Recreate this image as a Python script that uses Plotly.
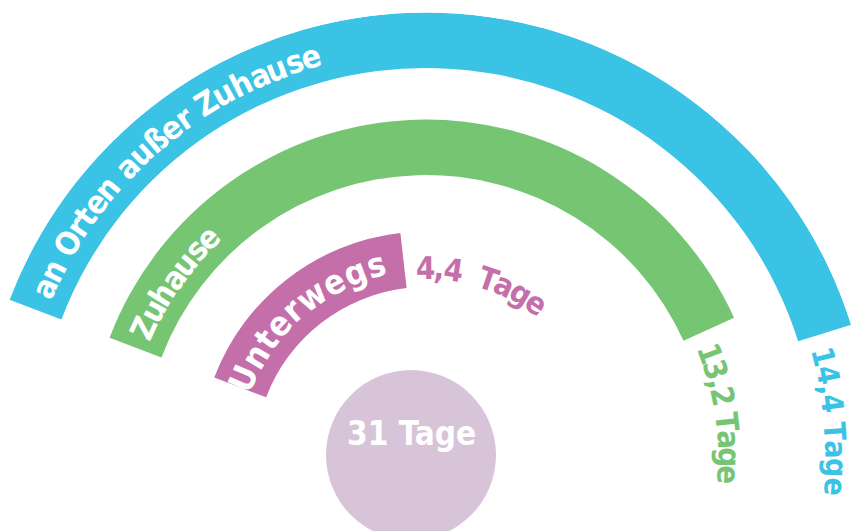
import math
import plotly.graph_objects as go

# ---------------- data ----------------
categories = ["an Orten außer Zuhause", "Zuhause", "Unterwegs"]
days = [14.4, 13.2, 4.4]
value_labels = ["14,4 Tage", "13,2 Tage", "4,4  Tage"]
arc_extent_deg = [141.8, 134.7, 62.7]   # angular length of each arc as drawn
total_days = 31
total_label = "31 Tage"

# ---------------- styling / geometry ----------------
colors = ["#3AC3E5", "#75C573", "#C46FAA"]
circle_color = "#D8C4D8"
FONT = "DejaVu Sans Condensed, Liberation Sans Narrow, sans-serif"

W, H = 858, 531
CX, CY = 426, 458          # arc centre in px
R_MAX = 445.5
START_DEG = 159.2
ring_base = [390, 283, 171]
RING_W = 55.5
SECTOR = [17, 160]

# approx. advance widths (em) of DejaVu Sans Condensed Bold, for curved text
CW = {' ': 0.348, 'a': 0.675, 'n': 0.712, 'O': 0.850, 'r': 0.493, 't': 0.478,
      'e': 0.678, 'u': 0.712, 'ß': 0.716, 'Z': 0.725, 'h': 0.712, 's': 0.595,
      'U': 0.815, 'w': 0.923, 'g': 0.716, 'T': 0.683, '1': 0.696, '3': 0.696,
      '4': 0.696, '2': 0.696, ',': 0.381}

fig = go.Figure()
for cat, ext, base, col in zip(categories, arc_extent_deg, ring_base, colors):
    fig.add_trace(go.Barpolar(
        r=[RING_W], base=[base], theta=[START_DEG - ext / 2], width=[ext],
        marker=dict(color=col, line=dict(width=0)), name=cat,
        hoverinfo="skip"))

# polar domain so that centre/radius land at CX, CY, R_MAX
def sector_bbox(s0, s1):
    c0, c1 = math.cos(math.radians(s0)), math.cos(math.radians(s1))
    return min(c0, c1), 0.0, max(c0, c1), 1.0

bx0, by0, bx1, by1 = sector_bbox(*SECTOR)
left = CX + R_MAX * bx0
right = CX + R_MAX * bx1
top = CY - R_MAX * by1
bottom = CY - R_MAX * by0

annotations = []


def arc_text(text, r, a0, a1, color, size):
    ws = [CW.get(ch, 0.68) for ch in text]
    centers = []
    acc = 0
    for w in ws:
        centers.append(acc + w / 2)
        acc += w
    s0, s1 = centers[0], centers[-1]
    for ch, c in zip(text, centers):
        if ch == ' ':
            continue
        th = a0 + (c - s0) / (s1 - s0) * (a1 - a0)
        px = CX + r * math.cos(math.radians(th))
        py = CY - r * math.sin(math.radians(th))
        annotations.append(dict(
            x=px / W, y=1 - py / H, xref="paper", yref="paper",
            text=ch, showarrow=False, xanchor="center", yanchor="middle",
            textangle=90 - th,
            font=dict(family=FONT, size=size, color=color, weight="bold")))


# category labels inside arcs
arc_text(categories[0], 417, 156.0, 106.0, "white", 32)
arc_text(categories[1], 310, 155.3, 134.7, "white", 32)
arc_text(categories[2], 199, 156.4, 104.6, "white", 34)
# value labels
arc_text(value_labels[0], 410, 14.3, -4.0, colors[0], 30)
arc_text(value_labels[1], 303, 20.3, -3.2, colors[1], 31)
arc_text(value_labels[2], 190, 90.3, 54.5, colors[2], 31)

# centre circle
CIRC_X, CIRC_Y, CIRC_R = 411, 455, 85
shapes = [dict(type="circle", xref="paper", yref="paper",
               x0=(CIRC_X - CIRC_R) / W, x1=(CIRC_X + CIRC_R) / W,
               y0=1 - (CIRC_Y + CIRC_R) / H, y1=1 - (CIRC_Y - CIRC_R) / H,
               fillcolor=circle_color, line=dict(width=0), layer="below")]
annotations.append(dict(x=CIRC_X / W, y=1 - CIRC_Y / H, xref="paper", yref="paper",
                        text=total_label, showarrow=False,
                        font=dict(family=FONT, size=33, color="white", weight="bold")))

fig.update_layout(
    width=W, height=H, margin=dict(l=0, r=0, t=0, b=0),
    paper_bgcolor="white", plot_bgcolor="white", showlegend=False,
    polar=dict(
        domain=dict(x=[left / W, right / W], y=[1 - bottom / H, 1 - top / H]),
        sector=SECTOR, hole=0, bgcolor="rgba(0,0,0,0)",
        radialaxis=dict(range=[0, R_MAX], visible=False),
        angularaxis=dict(visible=False, direction="counterclockwise", rotation=0),
    ),
    shapes=shapes, annotations=annotations,
)

fig.write_html("out.html",
               config={"displayModeBar": False},
               post_script="document.body.style.margin='0';"
                           "document.body.style.overflow='hidden';")
